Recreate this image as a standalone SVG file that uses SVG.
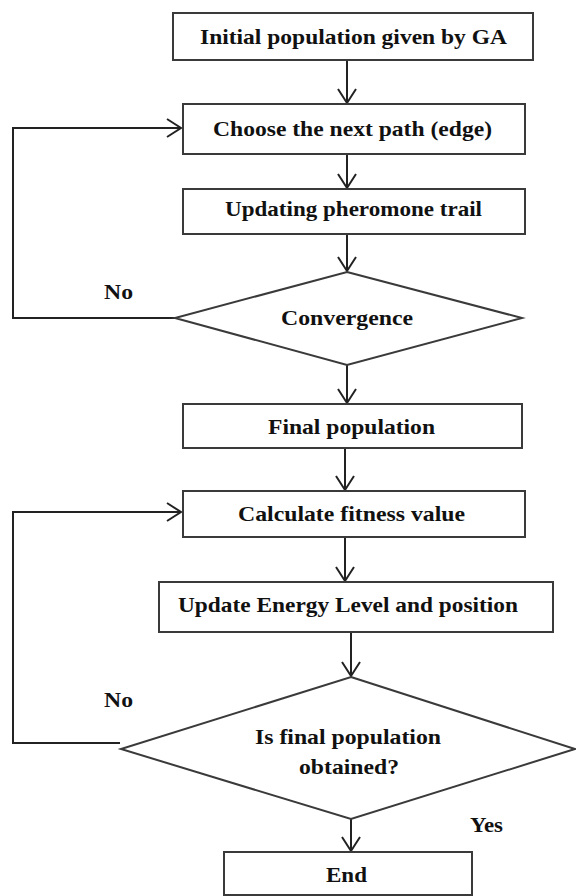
<svg xmlns="http://www.w3.org/2000/svg" width="576" height="896" viewBox="0 0 576 896">
  <style>
    .box { fill: #ffffff; stroke: #3a3a3a; stroke-width: 2; }
    .edge { fill: none; stroke: #222222; stroke-width: 2; }
    .lbl { font-family: "Liberation Serif", "Times New Roman", serif; font-weight: bold; font-size: 22px; fill: #111111; }
  </style>
  <defs>
    <marker id="arrow" markerUnits="userSpaceOnUse" markerWidth="20" markerHeight="22" refX="15" refY="10" orient="auto">
      <path d="M1,1 L15,10 L1,19" fill="none" stroke="#222222" stroke-width="2"/>
    </marker>
  </defs>
  <rect width="576" height="896" fill="#ffffff"/>

  <!-- connectors -->
  <g id="connectors">
    <line class="edge" x1="347" y1="60" x2="347" y2="103" marker-end="url(#arrow)"/>
    <line class="edge" x1="347" y1="154" x2="347" y2="188" marker-end="url(#arrow)"/>
    <line class="edge" x1="347" y1="234" x2="347" y2="271" marker-end="url(#arrow)"/>
    <line class="edge" x1="347" y1="365" x2="347" y2="403" marker-end="url(#arrow)"/>
    <line class="edge" x1="345" y1="448" x2="345" y2="490" marker-end="url(#arrow)"/>
    <line class="edge" x1="345" y1="537" x2="345" y2="581" marker-end="url(#arrow)"/>
    <line class="edge" x1="351" y1="632" x2="351" y2="676" marker-end="url(#arrow)"/>
    <line class="edge" x1="351" y1="819" x2="351" y2="851" marker-end="url(#arrow)"/>
    <polyline class="edge" points="175,318 13,318 13,128 181,128" marker-end="url(#arrow)"/>
    <polyline class="edge" points="120,743 13,743 13,512 181,512" marker-end="url(#arrow)"/>
  </g>

  <g id="init">
    <rect class="box" x="173" y="13" width="360" height="47"/>
    <text class="lbl" x="200" y="44" textLength="307" lengthAdjust="spacingAndGlyphs">Initial population given by GA</text>
  </g>
  <g id="choose">
    <rect class="box" x="183" y="104" width="342" height="50"/>
    <text class="lbl" x="213" y="136" textLength="279" lengthAdjust="spacingAndGlyphs">Choose the next path (edge)</text>
  </g>
  <g id="pheromone">
    <rect class="box" x="183" y="189" width="342" height="45"/>
    <text class="lbl" x="225" y="216" textLength="257" lengthAdjust="spacingAndGlyphs">Updating pheromone trail</text>
  </g>
  <g id="convergence">
    <polygon class="box" points="347,272 522,318 347,365 175,318"/>
    <text class="lbl" x="281" y="325" textLength="132" lengthAdjust="spacingAndGlyphs">Convergence</text>
  </g>
  <text class="lbl" x="104" y="299" textLength="29" lengthAdjust="spacingAndGlyphs">No</text>
  <g id="final">
    <rect class="box" x="183" y="404" width="339" height="44"/>
    <text class="lbl" x="268" y="434" textLength="167" lengthAdjust="spacingAndGlyphs">Final population</text>
  </g>
  <g id="fitness">
    <rect class="box" x="183" y="491" width="342" height="46"/>
    <text class="lbl" x="238" y="521" textLength="227" lengthAdjust="spacingAndGlyphs">Calculate fitness value</text>
  </g>
  <g id="energy">
    <rect class="box" x="159" y="582" width="394" height="50"/>
    <text class="lbl" x="178" y="612" textLength="340" lengthAdjust="spacingAndGlyphs">Update Energy  Level and position</text>
  </g>
  <g id="obtained">
    <polygon class="box" points="351,677 575,749 351,819 121,749"/>
    <text class="lbl" x="255" y="744" textLength="186" lengthAdjust="spacingAndGlyphs">Is final population</text>
    <text class="lbl" x="299" y="774" textLength="100" lengthAdjust="spacingAndGlyphs">obtained?</text>
  </g>
  <text class="lbl" x="104" y="707" textLength="29" lengthAdjust="spacingAndGlyphs">No</text>
  <text class="lbl" x="470" y="832" textLength="33" lengthAdjust="spacingAndGlyphs">Yes</text>
  <g id="end">
    <rect class="box" x="224" y="852" width="248" height="43"/>
    <text class="lbl" x="326" y="882" textLength="41" lengthAdjust="spacingAndGlyphs">End</text>
  </g>
</svg>
